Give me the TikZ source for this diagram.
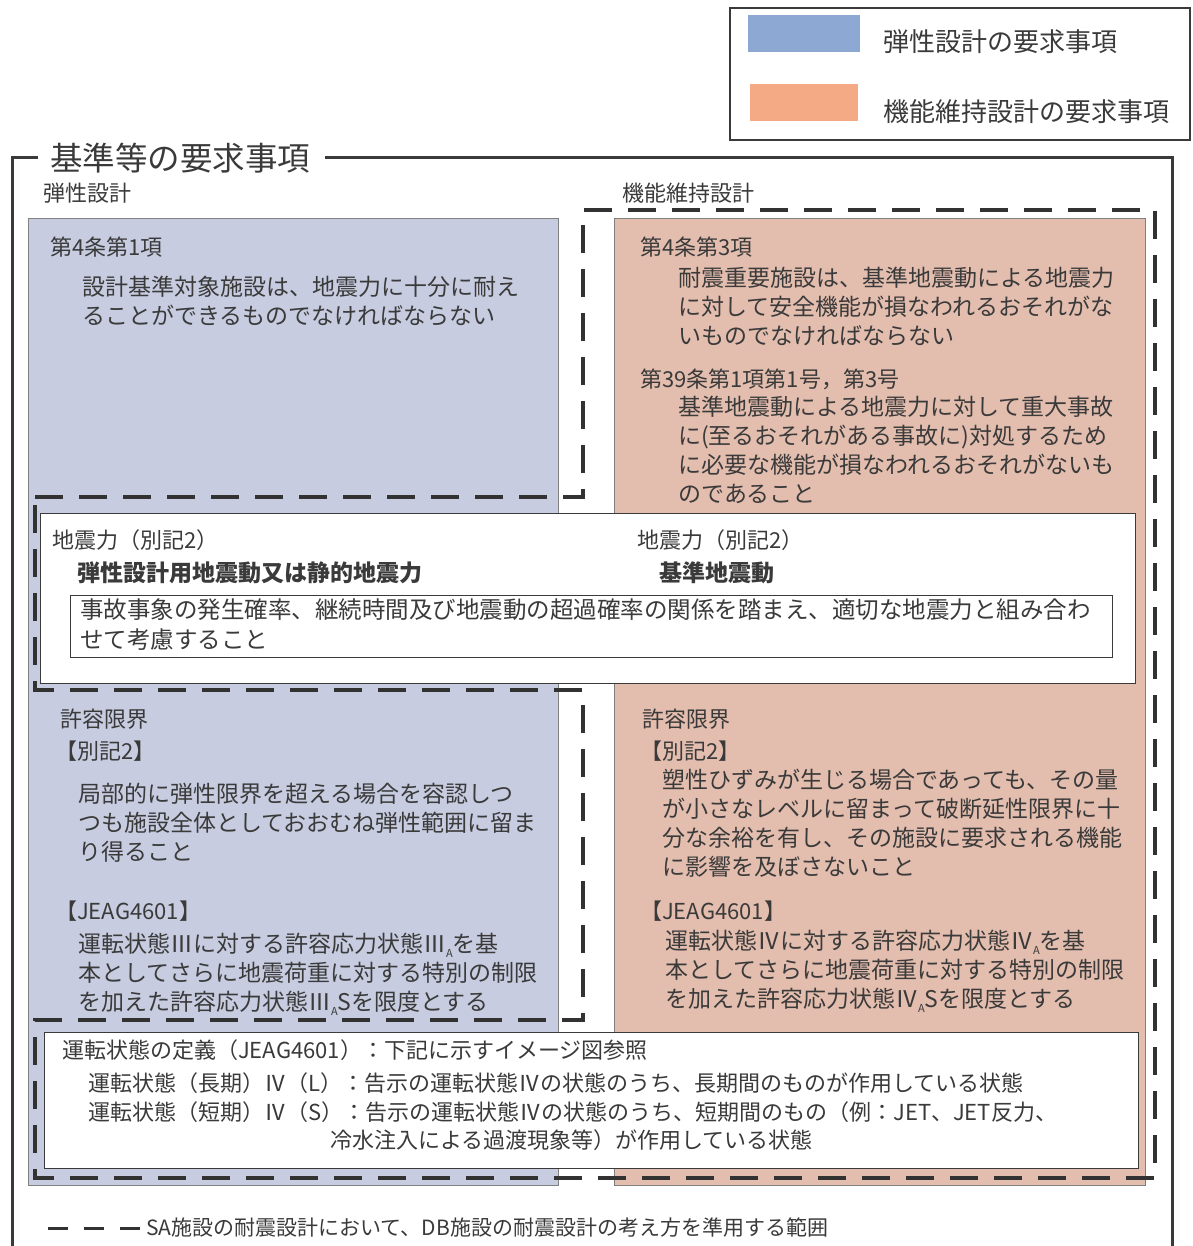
\documentclass[tikz,border=0pt]{standalone}
\usepackage{fontspec}
\setmainfont{Noto Sans CJK JP}
\usetikzlibrary{positioning}
\definecolor{ink}{RGB}{58,58,58}
\definecolor{elblue}{RGB}{199,204,224}
\definecolor{fnorange}{RGB}{227,189,174}
\definecolor{legblue}{RGB}{142,168,212}
\definecolor{legorange}{RGB}{244,170,133}
\definecolor{sadash}{RGB}{50,50,50}
\newcommand{\subA}{\raisebox{-0.35ex}{\fontsize{11}{11}\selectfont A}}
\begin{document}
\begin{tikzpicture}[x=1pt,y=-1pt,
  txt/.style={anchor=north west,align=left,inner sep=0pt,text=ink,font=\fontsize{23}{29}\selectfont},
  hd/.style={txt,font=\fontsize{22}{26}\selectfont},
  sabound/.style={line width=3.5pt,dash pattern=on 28pt off 16pt,draw=sadash,line join=miter},
  whitebox/.style={fill=white,draw=ink,line width=1pt}]
\useasboundingbox (0,0) rectangle (1192,1246);
% legend
\draw[line width=1.5pt,draw=ink] (730,8) rectangle (1190,140);
\fill[legblue] (748,15) rectangle (860,52);
\fill[legorange] (750,84) rectangle (858,121);
\node[txt,anchor=west,font=\fontsize{26}{30}\selectfont] (legel) at (883,42) {弾性設計の要求事項};
\node[txt,anchor=west,font=\fontsize{26}{30}\selectfont] (legfn) at (883,112) {機能維持設計の要求事項};
% outer frame
\node[txt,anchor=west,font=\fontsize{32.5}{36}\selectfont] (title) at (50,158) {基準等の要求事項};
\draw[line width=3pt,draw=ink] (38,158) -- (12,158) -- (12,1246);
\draw[line width=3pt,draw=ink] (325,158) -- (1172,158) -- (1172,1246);
\node[hd,anchor=west] (elhead) at (43,193) {弾性設計};
\node[hd,anchor=west] (fnhead) at (622,193) {機能維持設計};
% colour boxes
\filldraw[fill=elblue,draw=gray,line width=0.8pt] (28,218) rectangle (558,1185);
\filldraw[fill=fnorange,draw=gray,line width=0.8pt] (614,218) rectangle (1145,1185);
% elastic design
\node[hd] (art4a) at (50,237) {第4条第1項};
\node[txt] (art4atxt) at (82,276) {設計基準対象施設は、地震力に十分に耐え\\ることができるものでなければならない};
\node[hd] (ellim) at (60,709) {許容限界};
\node[hd] (elbk) at (55,741) {【別記2】};
\node[txt] (elbktxt) at (78,783) {局部的に弾性限界を超える場合を容認しつ\\つも施設全体としておおむね弾性範囲に留ま\\り得ること};
\node[hd] (eljeag) at (55,901) {【JEAG4601】};
\node[txt] (eljeagtxt) at (78,933) {運転状態Ⅲに対する許容応力状態Ⅲ\subA を基\\本としてさらに地震荷重に対する特別の制限\\を加えた許容応力状態Ⅲ\subA Sを限度とする};
% function maintenance design
\node[hd] (art4c) at (640,237) {第4条第3項};
\node[txt] (art4ctxt) at (678,267) {耐震重要施設は、基準地震動による地震力\\に対して安全機能が損なわれるおそれがな\\いものでなければならない};
\node[hd] (art39) at (640,369) {第39条第1項第1号，第3号};
\node[txt] (art39txt) at (678,396) {基準地震動による地震力に対して重大事故\\に(至るおそれがある事故に)対処するため\\に必要な機能が損なわれるおそれがないも\\のであること};
\node[hd] (fnlim) at (642,709) {許容限界};
\node[hd] (fnbk) at (640,741) {【別記2】};
\node[txt] (fnbktxt) at (662,769) {塑性ひずみが生じる場合であっても、その量\\が小さなレベルに留まって破断延性限界に十\\分な余裕を有し、その施設に要求される機能\\に影響を及ぼさないこと};
\node[hd] (fnjeag) at (640,901) {【JEAG4601】};
\node[txt] (fnjeagtxt) at (665,930) {運転状態Ⅳに対する許容応力状態Ⅳ\subA を基\\本としてさらに地震荷重に対する特別の制限\\を加えた許容応力状態Ⅳ\subA Sを限度とする};
% seismic force
\filldraw[whitebox] (40,513) rectangle (1135,683);
\node[hd] (elforce) at (52,529) {地震力（別記2）};
\node[txt,font=\fontsize{23}{29}\bfseries] (elmotion) at (77,562) {弾性設計用地震動又は静的地震力};
\node[hd] (fnforce) at (637,529) {地震力（別記2）};
\node[txt,font=\fontsize{23}{29}\bfseries] (fnmotion) at (659,562) {基準地震動};
\draw[ink,line width=1pt] (70,595) rectangle (1112,657);
\node[txt,font=\fontsize{23.5}{30}\selectfont] (combtxt) at (80,598) {事故事象の発生確率、継続時間及び地震動の超過確率の関係を踏まえ、適切な地震力と組み合わ\\せて考慮すること};
% operating states
\filldraw[whitebox] (44,1032) rectangle (1138,1168);
\node[txt,font=\fontsize{22}{29}\selectfont] (opdef) at (62,1039) {運転状態の定義（JEAG4601）：下記に示すイメージ図参照};
\node[txt,font=\fontsize{22}{29}\selectfont] (oplong) at (88,1072) {運転状態（長期）Ⅳ（L）：告示の運転状態Ⅳの状態のうち、長期間のものが作用している状態\\運転状態（短期）Ⅳ（S）：告示の運転状態Ⅳの状態のうち、短期間のもの（例：JET、JET反力、};
\node[txt,font=\fontsize{22}{29}\selectfont] (opshort) at (330,1129) {冷水注入による過渡現象等）が作用している状態};
% SA range
\draw[sabound] (35,497) -- (583,497) -- (583,210) -- (1155,210) -- (1155,1178) -- (35,1178) -- (35,1020) -- (583,1020) -- (583,690) -- (35,690) -- cycle;
\coordinate (keyl) at (48,1228); \coordinate (keyr) at (140,1228);
\draw[line width=3pt,draw=sadash,dash pattern=on 20pt off 16pt] (keyl) -- (keyr);
\node[txt,anchor=west,font=\fontsize{21}{25}\selectfont] (keytxt) at (146,1228) {SA施設の耐震設計において、DB施設の耐震設計の考え方を準用する範囲};
\end{tikzpicture}
\end{document}
